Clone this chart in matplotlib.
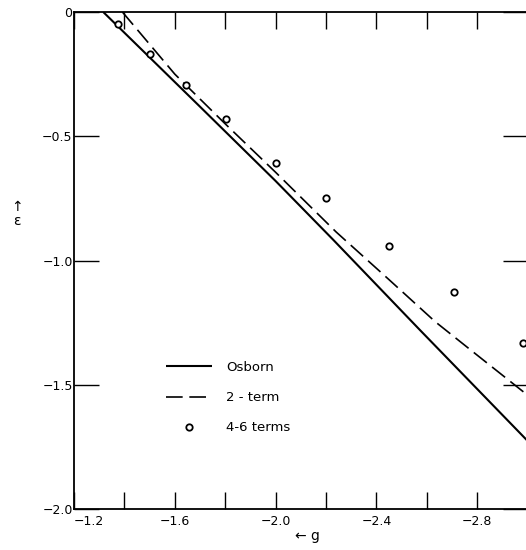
import matplotlib
matplotlib.use("Agg")
import matplotlib.pyplot as plt

# Data
osborn_g = [-1.316, -1.7, -2.0, -2.229, -2.573, -3.0]
osborn_e = [0.0, -0.381, -0.68, -0.917, -1.28, -1.726]

two_g = [-1.392, -1.6, -1.8, -2.0, -2.24, -2.45, -2.633, -2.8, -3.0]
two_e = [0.0, -0.25, -0.45, -0.645, -0.885, -1.077, -1.246, -1.381, -1.542]

terms_g = [-1.373, -1.502, -1.643, -1.803, -2.002, -2.200, -2.451, -2.708, -2.980]
terms_e = [-0.047, -0.169, -0.295, -0.431, -0.606, -0.750, -0.940, -1.128, -1.331]

x_major = [-1.2, -1.6, -2.0, -2.4, -2.8]
x_major_labels = ["\u22121.2", "\u22121.6", "\u22122.0", "\u22122.4", "\u22122.8"]
x_minor = [-1.4, -1.8, -2.2, -2.6]
y_ticks = [0.0, -0.5, -1.0, -1.5, -2.0]
y_labels = ["0", "\u22120.5", "\u22121.0", "\u22121.5", "\u22122.0"]

W, H = 526, 550
fig = plt.figure(figsize=(W / 100, H / 100), dpi=100)
ax_left, ax_right, ax_top, ax_bot = 74, 527.6, 12, 509
ax = fig.add_axes([ax_left / W, 1 - ax_bot / H, (ax_right - ax_left) / W, (ax_bot - ax_top) / H])

ax.plot(osborn_g, osborn_e, color="black", lw=1.5, solid_capstyle="butt", label="Osborn")
ax.plot(two_g, two_e, color="black", lw=1.2, dashes=(10, 4), label="2 - term")
ax.plot(terms_g, terms_e, linestyle="none", marker="o", ms=4.6, mfc="white",
        mec="black", mew=1.3, label="4-6 terms", clip_on=False)

ax.set_xlim(-1.2, -3.0)
ax.set_ylim(-2.0, 0.0)

ax.set_xticks(x_major)
ax.set_xticklabels(x_major_labels, fontsize=9)
ax.set_xticks(x_minor, minor=True)
ax.set_yticks(y_ticks)
ax.set_yticklabels(y_labels, fontsize=9)
ax.xaxis.get_majorticklabels()[0].set_horizontalalignment("left")

ax.tick_params(axis="x", which="both", direction="in", length=12, width=1.0,
               top=True, bottom=True, pad=4)
ax.tick_params(axis="y", which="both", direction="in", length=18, width=1.0,
               left=True, right=True, pad=1)

for s in ax.spines.values():
    s.set_linewidth(1.3)

ax.set_xlabel("\u2190 g", fontsize=10)
ax.xaxis.set_label_coords((307 - ax_left) / (ax_right - ax_left), (ax_bot - 529) / (ax_bot - ax_top))
fig.text(17 / W, 1 - 214 / H, "\u2191\n\u03b5", ha="center", va="center",
         fontsize=10, linespacing=0.95)

leg = ax.legend(loc="upper left",
                bbox_to_anchor=((166 - ax_left) / (ax_right - ax_left), (ax_bot - 361) / (ax_bot - ax_top)),
                frameon=False, borderpad=0, borderaxespad=0, handlelength=3.5,
                handletextpad=1.05, labelspacing=1.3, numpoints=1, fontsize=9.5)

fig.savefig("out.png", dpi=100)
